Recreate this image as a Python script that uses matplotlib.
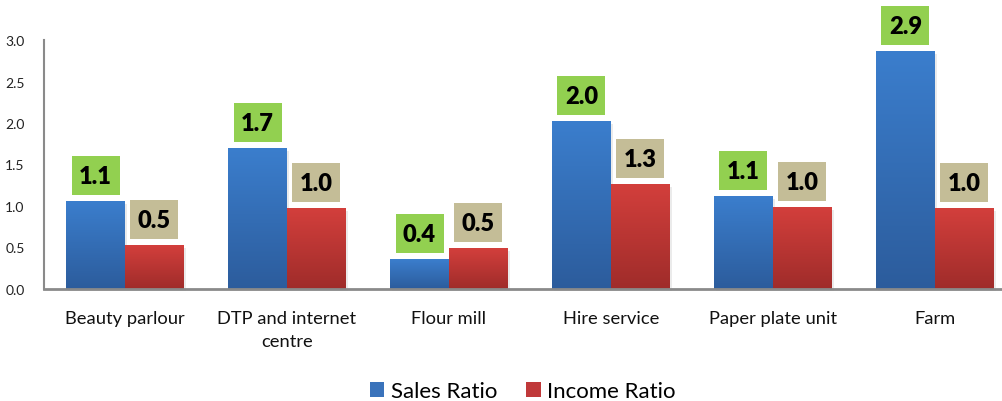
import numpy as np
import matplotlib
matplotlib.use('Agg')
import matplotlib.pyplot as plt
from matplotlib.patches import Rectangle, Patch
from matplotlib.colors import LinearSegmentedColormap
from matplotlib.transforms import ScaledTranslation

# ratios per enterprise type
categories = ['Beauty parlour', 'DTP and internet\ncentre', 'Flour mill',
              'Hire service', 'Paper plate unit', 'Farm']
sales_ratio = [1.06, 1.69, 0.36, 2.02, 1.11, 2.86]
income_ratio = [0.52, 0.97, 0.49, 1.26, 0.98, 0.97]
series_names = ['Sales Ratio', 'Income Ratio']

plt.rcParams['font.family'] = ['Lato', 'DejaVu Sans']

fig = plt.figure(figsize=(10.03, 4.02), dpi=100)
ax = fig.add_axes([44 / 1003, 112 / 402, 959 / 1003, 249 / 402])

x = np.arange(len(categories))
w = 0.364
sales_bars = ax.bar(x - w / 2, sales_ratio, w, color='#3a73bb', zorder=2)
income_bars = ax.bar(x + w / 2, income_ratio, w, color='#c0393a', zorder=2)

ax.set_xlim(-0.5, 5.42)
ax.set_ylim(0, 3.0)

# vertical gradient fill laid over every bar
grads = {
    'sales': LinearSegmentedColormap.from_list('s', ['#2c5c9c', '#3b7ecd']),
    'income': LinearSegmentedColormap.from_list('i', ['#9f2c2a', '#d33f3c']),
}
ramp = np.linspace(0, 1, 256).reshape(-1, 1)
for bars, key in ((sales_bars, 'sales'), (income_bars, 'income')):
    for b in bars:
        x0, h, bw = b.get_x(), b.get_height(), b.get_width()
        # soft shadow
        ax.add_patch(Rectangle((x0 + 0.01, -0.03), bw, h, color='#000000',
                               alpha=0.08, lw=0, zorder=1, clip_on=False))
        ax.imshow(ramp, cmap=grads[key], origin='lower', aspect='auto',
                  extent=(x0, x0 + bw, 0, h), zorder=3, interpolation='bicubic')

# value boxes sitting just above each bar (sizes in inches)
def value_box(xc, val, face):
    tr = fig.dpi_scale_trans + ScaledTranslation(xc, val, ax.transData)
    ax.add_patch(Rectangle((-0.24, 0.065), 0.48, 0.39, transform=tr,
                           facecolor=face, edgecolor='none', zorder=4, clip_on=False))
    ax.text(0, 0.065 + 0.19, f'{val:.1f}', transform=tr, ha='center', va='center',
            fontsize=17, fontweight='heavy', color='black', zorder=5)

for b, v in zip(sales_bars, sales_ratio):
    value_box(b.get_x() + b.get_width() / 2, v, '#92d050')
for b, v in zip(income_bars, income_ratio):
    value_box(b.get_x() + b.get_width() / 2, v, '#c4bd97')

ax.set_yticks(np.arange(0, 3.01, 0.5))
ax.set_yticklabels([f'{t:.1f}' for t in np.arange(0, 3.01, 0.5)])
ax.set_xticks(x)
ax.set_xticklabels(categories, linespacing=1.55)
ax.tick_params(axis='y', length=0, pad=14, labelsize=10, labelcolor='#222222')
ax.tick_params(axis='x', length=0, pad=15, labelsize=13.2, labelcolor='#111111')

for s in ('top', 'right'):
    ax.spines[s].set_visible(False)
ax.spines['left'].set_color('#8a8a8a')
ax.spines['left'].set_linewidth(1.5)
ax.spines['bottom'].set_color('#8a8a8a')
ax.spines['bottom'].set_linewidth(2)
ax.spines['bottom'].set_zorder(6)

handles = [Patch(facecolor='#3a73bb'), Patch(facecolor='#c0393a')]
fig.legend(handles, series_names, loc='center', bbox_to_anchor=(523 / 1003, 1 - 392 / 402),
           ncol=2, frameon=False, fontsize=16, handlelength=0.65, handleheight=0.65,
           handletextpad=0.3, columnspacing=1.3)

fig.savefig('out.png', dpi=100)
